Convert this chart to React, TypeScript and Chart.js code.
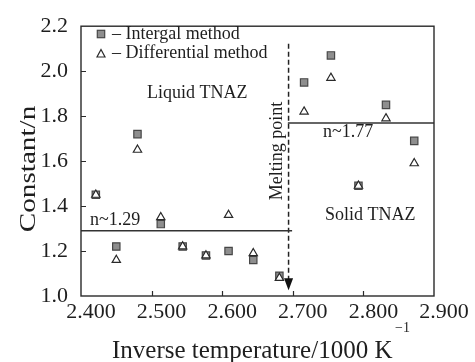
import { useEffect, useRef } from 'react';
import { Chart, registerables } from 'chart.js';

Chart.register(...registerables);

// Inverse temperature (1000/K) of each run
const temps = [2.421, 2.45, 2.48, 2.513, 2.544, 2.577, 2.609, 2.644, 2.681, 2.716, 2.754, 2.793, 2.832, 2.872];
// Reaction order n from the integral method
const intergal = [1.45, 1.22, 1.72, 1.32, 1.22, 1.18, 1.2, 1.16, 1.09, 1.95, 2.07, 1.49, 1.85, 1.69];
// Reaction order n from the differential method
const differential = [1.45, 1.16, 1.65, 1.35, 1.22, 1.18, 1.36, 1.19, 1.08, 1.82, 1.97, 1.49, 1.79, 1.59];

const xTicks = [2.4, 2.5, 2.6, 2.7, 2.8, 2.9];
const xTickLabels = ['2.400', '2.500', '2.600', '2.700', '2.800', '2.900'];
const yTicks = [1.0, 1.2, 1.4, 1.6, 1.8, 2.0, 2.2];
const yTickLabels = ['1.0', '1.2', '1.4', '1.6', '1.8', '2.0', '2.2'];

const meltingPoint = 2.694;
const meltingLineTop = 2.122;
const meltingArrowTip = 1.026;
const liquidN = 1.29;
const solidN = 1.77;

const SERIF = '"Liberation Serif", "DejaVu Serif", serif';
const INK = '#1e1e1e';
const SQUARE_FILL = '#8e8e8e';
const SQUARE_EDGE = '#474747';

function drawText(
  ctx: CanvasRenderingContext2D,
  text: string,
  x: number,
  y: number,
  size: number,
  align: CanvasTextAlign = 'left',
  rotate = 0,
  stretch = 1,
) {
  ctx.save();
  ctx.translate(x, y);
  if (rotate) ctx.rotate(rotate);
  ctx.scale(stretch, 1);
  ctx.font = `${size}px ${SERIF}`;
  ctx.fillStyle = INK;
  ctx.textAlign = align;
  ctx.textBaseline = 'middle';
  ctx.fillText(text, 0, 0);
  ctx.restore();
}

const decorations = {
  id: 'decorations',
  afterDraw(chart: Chart) {
    const { ctx } = chart;
    const { left, right, top, bottom } = chart.chartArea;
    const xs = chart.scales.x;
    const ys = chart.scales.y;

    ctx.save();
    // frame
    ctx.strokeStyle = '#2a2a2a';
    ctx.lineWidth = 1.4;
    ctx.strokeRect(left, top, right - left, bottom - top);

    // inward tick marks
    ctx.lineWidth = 1.2;
    ctx.beginPath();
    xTicks.slice(1, -1).forEach((v) => {
      const px = Math.round(xs.getPixelForValue(v)) + 0.5;
      ctx.moveTo(px, bottom);
      ctx.lineTo(px, bottom - 5);
    });
    yTicks.slice(1, -1).forEach((v) => {
      const py = Math.round(ys.getPixelForValue(v)) + 0.5;
      ctx.moveTo(left, py);
      ctx.lineTo(left + 5, py);
    });
    ctx.stroke();

    // arrow head of the melting point marker
    const ax = xs.getPixelForValue(meltingPoint);
    const ay = ys.getPixelForValue(meltingArrowTip);
    ctx.fillStyle = '#111';
    ctx.beginPath();
    ctx.moveTo(ax, ay);
    ctx.lineTo(ax - 4.5, ay - 12);
    ctx.lineTo(ax + 4.5, ay - 12);
    ctx.closePath();
    ctx.fill();

    // legend
    ctx.fillStyle = SQUARE_FILL;
    ctx.strokeStyle = SQUARE_EDGE;
    ctx.lineWidth = 1.2;
    ctx.fillRect(97.3, 30.3, 7.4, 7.4);
    ctx.strokeRect(97.3, 30.3, 7.4, 7.4);
    ctx.fillStyle = '#fff';
    ctx.strokeStyle = '#2a2a2a';
    ctx.beginPath();
    ctx.moveTo(101, 49.5);
    ctx.lineTo(105, 57);
    ctx.lineTo(97, 57);
    ctx.closePath();
    ctx.fill();
    ctx.stroke();
    ctx.restore();

    drawText(ctx, '\u2013 Intergal method', 112, 34, 18);
    drawText(ctx, '\u2013 Differential method', 112, 53.5, 18);

    // annotations
    drawText(ctx, 'Liquid TNAZ', 147, 93, 18);
    drawText(ctx, 'n~1.29', 90, 220, 18);
    drawText(ctx, 'n~1.77', 323, 132, 18);
    drawText(ctx, 'Solid TNAZ', 325, 215, 18);
    drawText(ctx, 'Melting point', 277, 151, 18, 'center', -Math.PI / 2);

    // axis titles
    drawText(ctx, 'Inverse temperature/1000 K', 112, 351, 25);
    drawText(ctx, '\u22121', 395, 328, 14);
    drawText(ctx, 'Constant/n', 29, 169, 23, 'center', -Math.PI / 2, 1.27);
  },
};

export default function App() {
  const canvasRef = useRef<HTMLCanvasElement | null>(null);

  useEffect(() => {
    document.body.style.margin = '0';
    const canvas = canvasRef.current;
    if (!canvas) return;

    const chart = new Chart(canvas, {
      type: 'scatter',
      data: {
        datasets: [
          {
            label: 'Differential method',
            data: temps.map((x, i) => ({ x, y: differential[i] })),
            pointStyle: 'triangle',
            pointRadius: 4.8,
            pointBackgroundColor: '#ffffff',
            pointBorderColor: '#2a2a2a',
            pointBorderWidth: 1.2,
            order: 0,
          },
          {
            label: 'Intergal method',
            data: temps.map((x, i) => ({ x, y: intergal[i] })),
            pointStyle: 'rect',
            pointRadius: 5.2,
            pointBackgroundColor: SQUARE_FILL,
            pointBorderColor: SQUARE_EDGE,
            pointBorderWidth: 1.2,
            order: 1,
          },
          {
            label: 'Liquid n',
            data: [
              { x: xTicks[0], y: liquidN },
              { x: 2.699, y: liquidN },
            ],
            showLine: true,
            pointRadius: 0,
            borderColor: '#333',
            borderWidth: 1.5,
            order: 2,
          },
          {
            label: 'Solid n',
            data: [
              { x: 2.693, y: solidN },
              { x: xTicks[xTicks.length - 1], y: solidN },
            ],
            showLine: true,
            pointRadius: 0,
            borderColor: '#333',
            borderWidth: 1.5,
            order: 2,
          },
          {
            label: 'Melting point',
            data: [
              { x: meltingPoint, y: meltingLineTop },
              { x: meltingPoint, y: meltingArrowTip + 0.04 },
            ],
            showLine: true,
            pointRadius: 0,
            borderColor: '#222',
            borderWidth: 1.5,
            borderDash: [5, 3],
            order: 2,
          },
        ],
      },
      options: {
        animation: false,
        responsive: false,
        devicePixelRatio: 1,
        layout: { padding: { left: 0, top: 20, right: 41, bottom: 0 } },
        plugins: {
          legend: { display: false },
          tooltip: { enabled: false },
        },
        scales: {
          x: {
            type: 'linear',
            min: xTicks[0],
            max: xTicks[xTicks.length - 1],
            afterBuildTicks: (scale: any) => {
              scale.ticks = xTicks.map((value) => ({ value }));
            },
            afterFit: (scale: any) => {
              scale.height = 66;
            },
            grid: { display: false, drawTicks: false },
            border: { display: false },
            ticks: {
              autoSkip: false,
              maxRotation: 0,
              padding: 3,
              labelOffset: 10,
              color: INK,
              font: { family: SERIF, size: 22 },
              callback: (_v: any, i: number) => xTickLabels[i],
            },
          },
          y: {
            type: 'linear',
            min: yTicks[0],
            max: yTicks[yTicks.length - 1],
            afterBuildTicks: (scale: any) => {
              scale.ticks = yTicks.map((value) => ({ value }));
            },
            afterFit: (scale: any) => {
              scale.width = 81;
            },
            grid: { display: false, drawTicks: false },
            border: { display: false },
            ticks: {
              autoSkip: false,
              padding: 13,
              color: INK,
              font: { family: SERIF, size: 22 },
              callback: (_v: any, i: number) => yTickLabels[i],
            },
          },
        },
      },
      plugins: [decorations],
    });

    return () => chart.destroy();
  }, []);

  return <canvas ref={canvasRef} width={475} height={362} style={{ display: 'block', width: 475, height: 362 }} />;
}
